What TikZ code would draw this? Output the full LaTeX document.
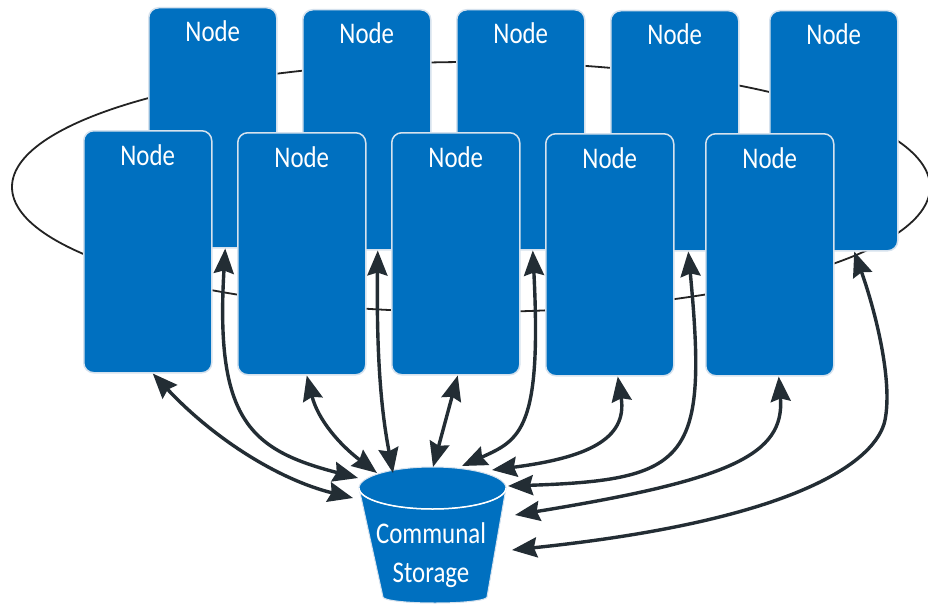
\documentclass[tikz,border=0pt]{standalone}
\usepackage{fontspec}
\newfontfamily\nodefont[FakeStretch=0.83]{Carlito}
\usetikzlibrary{arrows.meta}
\definecolor{nodeblue}{RGB}{0,112,192}
\definecolor{edgeline}{RGB}{214,226,238}
\definecolor{arrowdark}{RGB}{35,45,52}
\definecolor{ringdark}{RGB}{35,35,35}
\begin{document}
\begin{tikzpicture}[x=1pt,y=-1pt,
  box/.style={draw=edgeline, line width=1.5pt, fill=nodeblue, rounded corners=10pt,
              minimum width=128pt, anchor=north west, inner sep=0pt},
  backbox/.style={box, minimum height=240pt},
  frontbox/.style={box, minimum height=242pt},
  lbl/.style={text=white, font=\nodefont\fontsize{30}{36}\selectfont, anchor=base, inner sep=0pt},
  link/.style={draw=arrowdark, line width=3.4pt,
     {Stealth[length=25pt,width=20pt,inset=3pt]}-{Stealth[length=25pt,width=20pt,inset=3pt]}},
  ring/.style={draw=ringdark, line width=1.8pt}
]
\useasboundingbox (0,0) rectangle (928,607);
\clip (0,0) rectangle (928,607);
\fill[white] (0,0) rectangle (928,607);

% ring behind all nodes
\draw[ring] (471,187) ellipse [x radius=459, y radius=125];

% back row
\node[backbox] (b1) at (148,7) {};
\node[backbox] (b2) at (302,9) {};
\node[backbox] (b3) at (456,9) {};
\node[backbox] (b4) at (610,10) {};
\node[backbox] (b5) at (769,10) {};
\foreach \n in {b1,b2,b3,b4,b5}{
  \node[lbl] (\n t) at ([yshift=-34.5pt]\n.north) {Node};
}

% front row
\node[frontbox] (f1) at (83,130) {};
\node[frontbox] (f2) at (237,132) {};
\node[frontbox] (f3) at (391,132) {};
\node[frontbox] (f4) at (545,133) {};
\node[frontbox] (f5) at (705,133) {};
\foreach \n in {f1,f2,f3,f4,f5}{
  \node[lbl] (\n t) at ([yshift=-35pt]\n.north) {Node};
}

% bucket
\filldraw[fill=nodeblue, draw=edgeline, line width=1pt]
  (359,488) -- (383,597) arc[start angle=180, end angle=0, x radius=52, y radius=6]
  -- (506,488) -- cycle;
\filldraw[fill=nodeblue, draw=edgeline, line width=1pt] (432.5,488) ellipse [x radius=73.5, y radius=21];
\draw[white, line width=1.5pt] (359,488) arc[start angle=180, end angle=0, x radius=73.5, y radius=21];
\node[lbl] (st1) at (431,543) {Communal};
\node[lbl] (st2) at (431,582) {Storage};

% bucket ends of the connectors
\coordinate (s1) at (353,498);
\coordinate (s2) at (358,478);
\coordinate (s3) at (377,473);
\coordinate (s4) at (393,473);
\coordinate (s5) at (433,467);
\coordinate (s6) at (462,466);
\coordinate (s7) at (492,470);
\coordinate (s8) at (508,486);
\coordinate (s9) at (515,515);
\coordinate (s10) at (512,550);

% connectors
\draw[link] ([xshift=5pt]f1.south) .. controls (215,440) and (280,480) .. (s1);
\draw[link] ([xshift=12.5pt]b1.south) .. controls (215,420) and (250,450) .. (s2);
\draw[link] ([xshift=5pt]f2.south) .. controls (318,420) and (340,445) .. (s3);
\draw[link] ([xshift=11pt]b2.south) .. controls (376,380) and (385,430) .. (s4);
\draw[link] ([xshift=2pt]f3.south) -- (s5);
\draw[link] ([xshift=12pt]b3.south) .. controls (542,430) and (520,440) .. (s6);
\draw[link] ([xshift=8pt]f4.south) .. controls (628,440) and (585,458) .. (s7);
\draw[link] ([xshift=13.5pt]b4.south) .. controls (708,460) and (690,480) .. (s8);
\draw[link] ([xshift=9pt]f5.south) .. controls (785,455) and (730,480) .. (s9);
\draw[link] ([xshift=20.5pt]b5.south) .. controls (875,310) and (893,380) .. (885,420)
   .. controls (877,460) and (800,520) .. (s10);
\end{tikzpicture}
\end{document}
